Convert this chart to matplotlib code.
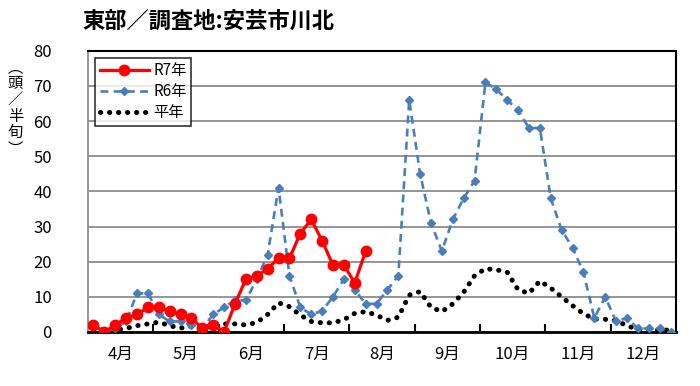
import matplotlib
matplotlib.use("Agg")
import matplotlib.pyplot as plt
import numpy as np

plt.rcParams['font.family'] = ['Noto Sans CJK JP', 'DejaVu Sans']

# 半旬ごと (4月第1半旬 ～ 12月第6半旬)
months = ["4月", "5月", "6月", "7月", "8月", "9月", "10月", "11月", "12月"]

r7 = [2, 0, 2, 4, 5, 7, 7, 6, 5, 4, 1, 2, 0, 8, 15, 16, 18, 21, 21, 28,
      32, 26, 19, 19, 14, 23]

r6 = [2, 0, 1, 3, 11, 11, 5, 3, 3, 2, 1, 5, 7, 9, 9, 15, 22, 41, 16, 7,
      5, 6, 10, 15, 12, 8, 8, 12, 16, 66, 45, 31, 23, 32, 38, 43, 71, 69, 66, 63,
      58, 58, 38, 29, 24, 17, 4, 10, 3, 4, 1, 1, 1, 0]

heinen = [1, 0.6, 0.6, 1, 1.8, 2.3, 2.8, 1.8, 1.1, 1.6, 0.9, 2.1, 2.3, 2.3, 2, 2.7,
          5, 8.3, 7.2, 4.8, 3, 2.6, 2.6, 3.5, 5.3, 5.8, 4.8, 3.3, 4.2, 10.5,
          11.5, 7, 5.8, 8, 11.3, 16, 18, 17.7, 17, 12, 11, 14.5, 12.5, 10,
          7.5, 5.2, 3.7, 3.6, 3.2, 1.8, 0.7, 0.6, 0.6, 0.5]

fig = plt.figure(figsize=(7, 3.86), dpi=100)
ax = fig.add_axes([0.1257, 0.1399, 0.84, 0.7288])

ax.plot(np.arange(len(heinen)), heinen, color="black", lw=3.6,
        linestyle=(0, (0.05, 1.75)), dash_capstyle="round", label="平年", zorder=2)
ax.plot(np.arange(len(r6)), r6, color="#4A7EBB", lw=1.9, linestyle=(0, (3, 2)),
        marker="D", markersize=4.5, label="R6年", zorder=3)
ax.plot(np.arange(len(r7)), r7, color="#FF0000", lw=2.3,
        marker="o", markersize=7.5, label="R7年", zorder=4)

ax.set_xlim(-0.5, 53.5)
ax.set_ylim(0, 80)
ax.set_yticks(range(0, 81, 10))
ax.yaxis.grid(True, color="#8C8C8C", lw=1.3)
ax.set_axisbelow(True)
ax.tick_params(axis="y", length=0, labelsize=12, pad=26)

ax.set_xticks(np.arange(5.5, 53, 6))
ax.set_xticklabels([])
ax.set_xticks(np.arange(2.5, 54, 6), minor=True)
ax.set_xticklabels(months, minor=True)
ax.tick_params(axis="x", which="major", direction="in", length=6, width=1.5)
ax.tick_params(axis="x", which="minor", length=0, labelsize=12, pad=10)

ax.spines["left"].set_color("#8C8C8C")
ax.spines["left"].set_linewidth(1.3)
ax.spines["bottom"].set_linewidth(2)
ax.spines["top"].set_linewidth(1.5)
ax.spines["right"].set_linewidth(1.5)

h, l = ax.get_legend_handles_labels()
leg = ax.legend(h[::-1], l[::-1], loc="upper left", bbox_to_anchor=(0.012, 0.975),
                fontsize=11, frameon=True, fancybox=False, edgecolor="black",
                handlelength=3.2, handletextpad=0.3, borderpad=0.3,
                labelspacing=0.25, borderaxespad=0)
leg.get_frame().set_linewidth(1.2)

fig.text(0.117, 0.945, "東部／調査地:安芸市川北", fontsize=16, fontweight="bold",
         va="center", ha="left")
fig.text(0.022, 0.72, "︵\n頭\n／\n半\n旬\n︶", fontsize=11, va="center",
         ha="center", linespacing=0.95)

fig.savefig("out.png", dpi=100)
